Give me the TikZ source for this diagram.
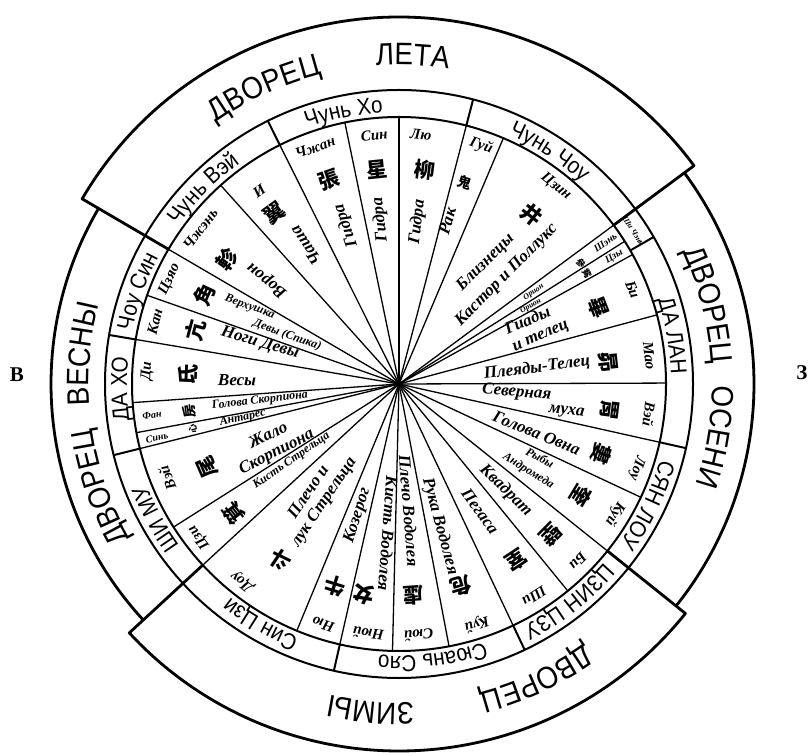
\documentclass[tikz,border=0pt]{standalone}
\usepackage{fontspec}
\setmainfont{Liberation Serif}
\newfontfamily\capsfont[FakeStretch=0.9]{Liberation Sans}
\newfontfamily\hanfont{Noto Sans CJK TC}
\usetikzlibrary{decorations.text}

\newcommand{\palfont}{\capsfont\fontsize{31}{31}\selectfont}
\newcommand{\cifont}{\capsfont\fontsize{23}{23}\selectfont}

% words bent round a ring: radius, centre angle, font, text (tops outward)
\newcommand{\ringtext}[4]{%
  \path[decorate, decoration={text along path, text align=center, text={|#3|#4}}]
    ({#2+45}:#1) arc[start angle={#2+45}, end angle={#2-45}, radius=#1];}

\begin{document}
\begin{tikzpicture}[
  x=1pt, y=1pt,
  rim/.style={line width=2.8pt, line join=round},
  circ/.style={line width=2pt},
  divide/.style={line width=1.3pt},
  xiu/.style={font=\fontsize{15}{15}\selectfont\bfseries\itshape, inner sep=0pt},
  tinyxiu/.style={xiu, font=\fontsize{10}{10}\selectfont\bfseries\itshape},
  han/.style={font=\fontsize{21}{21}\selectfont\hanfont\bfseries, inner sep=0pt},
  smallhan/.style={han, font=\fontsize{14}{14}\selectfont\hanfont\bfseries},
  tinyhan/.style={han, font=\fontsize{9}{9}\selectfont\hanfont\bfseries},
  sky/.style={font=\fontsize{17}{18}\selectfont\bfseries\itshape, inner sep=0pt, align=center},
  smallsky/.style={sky, font=\fontsize{12}{12}\selectfont\bfseries\itshape},
  tinysky/.style={sky, font=\fontsize{8}{8}\selectfont\bfseries\itshape},
  side/.style={font=\fontsize{21}{21}\selectfont\bfseries, inner sep=0pt}
]
\useasboundingbox (0,0) rectangle (810,752);

% --- east and west ---
\node[side] (east) at (17,377) {В};
\node[side] (west) at (802,379) {З};

\begin{scope}[shift={(399,368)}]
\def\rin{267}   % mansions
\def\rmid{294}  % twelve stations
\def\rsp{348}   % spring palace
\def\rau{355}   % autumn palace
\def\rhi{367}   % summer and winter palaces

% --- palaces ---
\draw[rim] (36.5:\rin) -- (36.5:\rhi) arc[start angle=36.5, end angle=149.7, radius=\rhi] -- (149.7:\rin);
\draw[rim] (222.7:\rin) -- (222.7:\rhi) arc[start angle=222.7, end angle=321.3, radius=\rhi] -- (321.3:\rin);
\draw[rim] (149.7:\rsp) arc[start angle=149.7, end angle=222.7, radius=\rsp];
\draw[rim] (-38.7:\rau) arc[start angle=-38.7, end angle=36.5, radius=\rau];

% --- rings and stations ---
\draw[circ] (0,0) circle[radius=\rin];
\draw[circ] (0,0) circle[radius=\rmid];
\foreach \a in {75.4,116.5,170.4,194,257.2,295.3,347.4,30}
  \draw[circ] (\a:\rin) -- (\a:\rmid);

% --- mansions ---
\foreach \a in {160.6,170.4,184,190.5,194,212.4,247.5,257.2,268.6,280.8,
                295.3,309.2,334.9,347.4,0.2,15,29,32.3,67,75.4,90,101.7,116.5,131.9}
  \draw[divide] (0,0) -- (\a:\rin);
\foreach \a in {36.5,149.7,222.7,321.3}
  \draw[divide] (0,0) -- (\a:\rin);

% --- palace names ---
\ringtext{319}{114.5}{\palfont}{ДВОРЕЦ}
\ringtext{319}{87.6}{\palfont}{ЛЕТА}
\ringtext{313}{14.3}{\palfont}{ДВОРЕЦ}
\ringtext{313}{-9.5}{\palfont}{ОСЕНИ}
\ringtext{319}{-65}{\palfont}{ДВОРЕЦ}
\ringtext{319}{-95}{\palfont}{ЗИМЫ}
\ringtext{310}{199}{\palfont}{ДВОРЕЦ}
\ringtext{310}{174.5}{\palfont}{ВЕСНЫ}

% --- station names ---
\ringtext{272}{57}{\cifont}{Чунь Чоу}
\ringtext{272}{101.5}{\cifont}{Чунь Хо}
\ringtext{272}{135}{\cifont}{Чунь Вэй}
\ringtext{272}{160.5}{\cifont}{Чоу Син}
\ringtext{272}{181}{\cifont}{ДА ХО}
\ringtext{272}{209}{\cifont}{ШИ МУ}
\ringtext{272}{240}{\cifont}{Син Цзи}
\ringtext{272}{277}{\cifont}{Сюань Сяо}
\ringtext{272}{308}{\cifont}{ЦЗИН ЦЗУ}
\ringtext{272}{-26}{\cifont}{СЯН ЛОУ}
\ringtext{272}{10}{\cifont}{ДА ЛАН}
\node[tinysky, rotate=-57] (shichen) at (33.2:280) {Ши Чэнь};

% --- spring: names, signs, stars ---
\node[xiu, rotate=65.5] (n-jiao) at (155.5:252) {Цзяо};
\node[han, rotate=65.4] (h-jiao) at (155.4:214) {角};
\node[smallsky, rotate=-20] (s-jiao1) at (152.7:168) {Верхушка};
\node[smallsky, rotate=-20] (s-jiao2) at (156.4:122) {Девы (Спика)};

\node[xiu, rotate=75.7] (n-kang) at (165.7:252) {Кан};
\node[han, rotate=75.2] (h-kang) at (165.2:211) {亢};
\node[sky, rotate=-16.4] (s-kang) at (163.6:145) {Ноги Девы};

\node[xiu, rotate=87] (n-di) at (177:252) {Ди};
\node[han, rotate=87.6] (h-di) at (177.6:211) {氐};
\node[sky, rotate=-1.4] (s-di) at (178.6:162) {Весы};

\node[tinyxiu, rotate=7] (n-fang) at (187.2:249) {Фан};
\node[smallhan, rotate=97.6] (h-fang) at (187.4:211) {房};
\node[smallsky, rotate=6.8] (s-fang) at (186.8:140) {Голова Скорпиона};

\node[tinyxiu, rotate=12.5] (n-xin) at (192.5:248) {Синь};
\node[tinyhan, rotate=102.4] (h-xin) at (192.3:211) {心};
\node[smallsky, rotate=12.3] (s-xin) at (192.3:160) {Антарес};

\node[xiu, rotate=112] (n-wei) at (202:250) {Вэй};
\node[han, rotate=113.3] (h-wei) at (203.3:209) {尾};
\node[sky, rotate=27] (s-wei) at (205.5:140) {Жало\\Скорпиона};

\node[xiu, rotate=127.5] (n-ji) at (217.5:252) {Цзи};
\node[han, rotate=128] (h-ji) at (218:210) {箕};
\node[smallsky, rotate=35] (s-ji) at (215.5:132) {Кисть Стрельца};

% --- winter ---
\node[xiu, rotate=141.5] (n-dou) at (231.5:252) {Доу};
\node[han, rotate=146] (h-dou) at (236:212) {斗};
\node[sky, rotate=56] (s-dou) at (234:140) {Плечо и\\лук Стрельца};

\node[xiu, rotate=162.5] (n-niu) at (252.5:252) {Ню};
\node[han, rotate=162.5] (h-niu) at (252.5:212) {牛};
\node[sky, rotate=72.5] (s-niu) at (252.5:138) {Козерог};

\node[xiu, rotate=173] (n-nu) at (263:252) {Нюй};
\node[han, rotate=170.5] (h-nu) at (260.5:214) {女};
\node[sky, rotate=-94.2] (s-nu) at (265.8:150) {Кисть Водолея};

\node[xiu, rotate=184.5] (n-xu) at (274.5:252) {Сюй};
\node[han, rotate=184] (h-xu) at (274:212) {虛};
\node[sky, rotate=-85.5] (s-xu) at (274.5:127) {Плечо Водолея};

\node[xiu, rotate=198] (n-wei2) at (288:252) {Куй};
\node[han, rotate=197] (h-wei2) at (287:212) {危};
\node[sky, rotate=-75] (s-wei2) at (286:148) {Рука Водолея};

\node[xiu, rotate=212.5] (n-shi) at (302.5:252) {Ши};
\node[han, rotate=213.5] (h-shi) at (303.5:212) {室};
\node[sky, rotate=-54] (s-shi) at (302.5:151) {Пегаса};

\node[xiu, rotate=225.3] (n-bi) at (315.3:252) {Би};
\node[han, rotate=225.3] (h-bi) at (315.3:214) {壁};
\node[sky, rotate=-44] (s-bi) at (315:151) {Квадрат};

% --- autumn ---
\node[xiu, rotate=-121] (n-kui) at (-31:252) {Куй};
\node[han, rotate=-121.5] (h-kui) at (-31.5:214) {奎};
\node[smallsky, rotate=-28] (s-kui1) at (-27.5:159) {Рыбы};
\node[smallsky, rotate=-32] (s-kui2) at (-34:156) {Андромеда};

\node[xiu, rotate=-109.5] (n-lou) at (-19.5:252) {Лоу};
\node[han, rotate=-109.2] (h-lou) at (-19.2:214) {婁};
\node[sky, rotate=-22] (s-lou) at (-19.5:146) {Голова Овна};

\node[xiu, rotate=-97] (n-wei3) at (-7:252) {Вэй};
\node[han, rotate=-97] (h-wei3) at (-7:212) {胃};
\node[sky, rotate=-5] (s-wei3a) at (-4.2:118) {Северная};
\node[sky, rotate=-6] (s-wei3b) at (-9.6:170) {муха};

\node[xiu, rotate=-83.5] (n-mao) at (6.5:252) {Мао};
\node[han, rotate=-84] (h-mao) at (6:210) {昴};
\node[sky, rotate=7] (s-mao) at (6.6:139) {Плеяды-Телец};

\node[xiu, rotate=-68] (n-bi2) at (22:252) {Би};
\node[han, rotate=-69] (h-bi2) at (21:213) {畢};
\node[sky, rotate=24, align=left] (s-bi2) at (22.4:149) {Гиады\\и телец};

\node[tinyxiu, rotate=30.6] (n-zi) at (30.6:250) {Цзы};
\node[tinyhan, rotate=-59.5] (h-zi) at (30.5:218) {觜};
\node[tinysky, rotate=30.6] (s-zi) at (30.6:153) {Орион};

\node[tinyxiu, rotate=34.4] (n-shen) at (34.4:250) {Шэнь};
\node[tinyhan, rotate=-56.5] (h-shen) at (33.5:218) {參};
\node[tinysky, rotate=34.3] (s-shen) at (34.3:163) {Орион};

% --- summer ---
\node[xiu, rotate=-38.5] (n-jing) at (51.5:252) {Цзин};
\node[han, rotate=-38] (h-jing) at (52:215) {井};
\node[sky, rotate=45] (s-jing1) at (54.5:149) {Близнецы};
\node[sky, rotate=45] (s-jing2) at (45.3:153) {Кастор и Поллукс};

\node[xiu, rotate=-19] (n-gui) at (71:252) {Гуй};
\node[smallhan, rotate=-18] (h-gui) at (72:212) {鬼};
\node[sky, rotate=73.5] (s-gui) at (73.5:170) {Рак};

\node[xiu, rotate=-5] (n-liu) at (85:250) {Лю};
\node[han, rotate=-7] (h-liu) at (83:216) {柳};
\node[sky, rotate=83.5] (s-liu) at (83.5:163) {Гидра};

\node[xiu, rotate=5.7] (n-xing) at (95.7:250) {Син};
\node[han, rotate=5.8] (h-xing) at (95.8:216) {星};
\node[sky, rotate=96.5] (s-xing) at (96.5:165) {Гидра};

\node[xiu, rotate=19.5] (n-zhang) at (109.5:251) {Чжан};
\node[han, rotate=19] (h-zhang) at (109:216) {張};
\node[sky, rotate=108.5] (s-zhang) at (108.5:167) {Гидра};

\node[xiu, rotate=36] (n-yi) at (126:238) {И};
\node[han, rotate=36] (h-yi) at (126:211) {翼};
\node[sky, rotate=124] (s-yi) at (124:167) {Чаша};

\node[xiu, rotate=52] (n-zhen) at (142:252) {Чжэнь};
\node[han, rotate=54] (h-zhen) at (144:212) {軫};
\node[sky, rotate=141.8] (s-zhen) at (141.8:168) {Ворон};
\end{scope}
\end{tikzpicture}
\end{document}
